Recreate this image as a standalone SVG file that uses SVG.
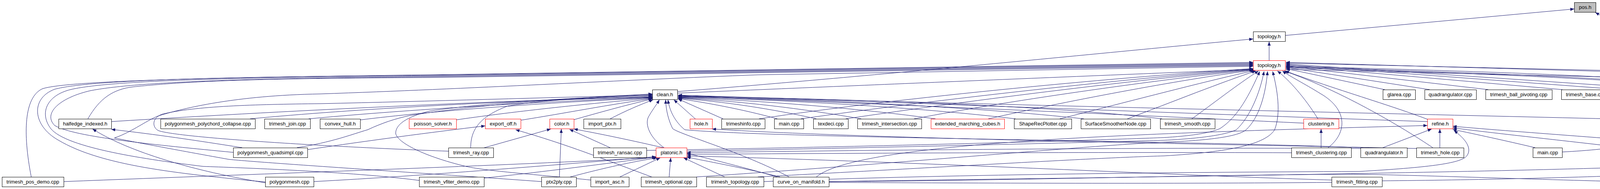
<svg xmlns="http://www.w3.org/2000/svg" width="4864" height="485" viewBox="0 0 4864 485">
<defs>
<marker id="a" markerWidth="10" markerHeight="8" refX="10" refY="4" orient="auto" markerUnits="userSpaceOnUse"><path d="M0,0 L10,4 L0,8 z" fill="#191970"/></marker>
<style>
.e path{fill:none;stroke:#191970;stroke-width:1;marker-end:url(#a)}
.e path.na{marker-end:none}
.n rect{fill:#fff;stroke:#000;stroke-width:1}
.n.r rect{stroke:#f00}
.n.g rect{fill:#bfbfbf}
.n text{font-family:"Liberation Sans",Arial,Helvetica,sans-serif;font-size:13px;text-anchor:middle;fill:#000}
</style>
</defs>
<rect width="4864" height="485" fill="#fff"/>
<g id="connectors" class="e">
<path d="M3290,91 L4030,23"/>
<path d="M4636,305 C4540,222 4290,145 4084,32"/>
<path d="M3249,155 L3249,107"/>
<path d="M1734,235 C2300,190 2900,128 3208,100"/>
<path d="M1734,239 C2300,215 2900,190 3208,178"/>
<path d="M80,454 C58,340 62,250 108,228 C170,206 600,198 1100,192 L3208,160"/>
<path d="M679,467 C450,445 260,425 150,360 C82,322 78,252 140,229 C230,204 600,197 1100,193 L3208,162"/>
<path d="M1073,463 C900,440 600,430 520,427 C380,410 170,380 130,330 C100,290 120,245 180,230 C280,206 600,199 1100,195 L3208,164"/>
<path d="M597,391 C400,372 190,352 140,322 C110,292 150,252 230,233 C350,209 650,201 1100,197 L3208,166"/>
<path d="M225,305 C255,252 290,229 340,223 C500,206 700,201 1100,199 L3208,168"/>
<path d="M1386,466 C1100,445 700,420 586,409 C480,390 330,362 293,354 C340,338 380,305 410,296 C470,278 600,245 820,241 C1200,228 1600,205 1940,192 L3208,170"/>
<path d="M285,312 C800,280 1300,258 1670,248"/>
<path d="M640,305 C900,280 1300,258 1670,249"/>
<path d="M790,305 C1000,285 1350,262 1670,250"/>
<path d="M920,308 C1100,285 1400,263 1670,251"/>
<path d="M1165,308 C1300,288 1500,266 1670,252"/>
<path d="M1330,309 C1450,290 1560,268 1670,253"/>
<path d="M1466,308 C1530,290 1600,270 1670,254"/>
<path d="M1562,305 C1600,285 1640,268 1672,256"/>
<path d="M1148,388 C800,375 450,352 405,335 C388,325 390,302 415,293 C500,272 650,268 820,266 C1100,260 1400,250 1670,244"/>
<path d="M1205,379 C1205,335 1225,300 1300,272 C1400,255 1550,248 1670,246"/>
<path d="M1512,462 C1400,450 1250,440 1193,427 C1100,405 1020,370 1013,343 C1012,320 1040,300 1100,285 C1250,262 1500,250 1670,243"/>
<path d="M760,379 C850,365 900,345 941,333 C980,315 1010,305 1051,296 C1250,265 1500,250 1670,241"/>
<path d="M787,384 C950,360 1100,340 1242,323"/>
<path d="M620,379 C500,360 400,345 285,332"/>
<path d="M679,469 C500,440 330,390 237,331"/>
<path d="M163,466 C700,445 1300,425 1679,404"/>
<path d="M803,466 C1100,450 1400,425 1679,402"/>
<path d="M1239,457 C1400,440 1550,420 1679,403"/>
<path d="M1460,454 C1550,430 1620,415 1682,405"/>
<path d="M1587,454 L1690,405"/>
<path d="M1713,454 L1717,405"/>
<path d="M1855,454 L1750,405"/>
<path d="M1997,454 C1900,430 1800,412 1758,403"/>
<path d="M1432,454 L1437,331"/>
<path d="M1240,379 L1410,331"/>
<path d="M1562,379 L1458,332"/>
<path d="M1990,454 C1800,400 1600,355 1469,331"/>
<path d="M1668,454 C1550,410 1450,370 1320,333"/>
<path d="M1700,379 C1665,355 1650,320 1660,300 C1668,285 1680,270 1688,256"/>
<path d="M2020,454 C1900,390 1740,345 1722,330 C1712,310 1705,285 1704,256"/>
<path d="M1780,305 L1725,256"/>
<path d="M3490,379 C3000,360 2000,355 1753,333 C1728,312 1714,285 1710,256"/>
<path d="M3626,381 C3000,368 2200,355 1823,331"/>
<path d="M1851,305 L1736,254"/>
<path d="M1990,305 C1900,280 1800,262 1736,253"/>
<path d="M2090,305 C1980,280 1850,260 1736,252"/>
<path d="M2205,305 C2050,278 1900,260 1736,251"/>
<path d="M2395,305 C2200,278 1950,258 1736,250"/>
<path d="M2600,305 C2350,275 2000,256 1736,249"/>
<path d="M2775,305 C2500,275 2100,255 1736,248"/>
<path d="M2975,305 C2700,272 2200,254 1736,247"/>
<path d="M3337,316 C2800,290 2200,265 1736,246"/>
<path d="M3654,312 C3000,290 2300,262 1736,245"/>
<path d="M4582,317 C4000,300 2500,270 1736,244"/>
<path d="M1943,305 C2300,250 2900,195 3208,176"/>
<path d="M2050,305 C2400,255 2900,200 3208,177"/>
<path d="M2165,305 C2500,255 2950,200 3208,178"/>
<path d="M2340,305 C2600,255 3000,200 3209,179"/>
<path d="M2530,305 C2750,255 3050,200 3210,180"/>
<path d="M2713,305 C2900,258 3100,205 3212,181"/>
<path d="M2886,305 C3000,262 3130,210 3215,182"/>
<path d="M3051,305 C3100,270 3170,215 3222,182"/>
<path d="M3374,305 C3340,250 3300,205 3270,182"/>
<path d="M3654,306 C3560,270 3420,230 3290,182"/>
<path d="M3668,379 C3550,300 3400,220 3287,182"/>
<path d="M3400,379 C3450,340 3450,280 3380,240 C3340,215 3300,195 3283,182"/>
<path d="M1655,386 C2300,375 2800,360 2980,353 C3060,348 3100,340 3123,330 C3170,300 3200,240 3225,183"/>
<path d="M1758,388 C2300,378 2800,365 2980,360 C3080,355 3140,345 3165,333 C3200,300 3225,240 3236,183"/>
<path d="M1783,454 C2300,420 2800,372 2980,365 C3100,360 3170,350 3190,333 C3225,300 3240,240 3245,183"/>
<path d="M1940,454 C2400,430 2800,405 2980,400 C3150,390 3240,370 3263,333 C3280,290 3270,230 3258,183"/>
<path d="M3545,230 L3292,176"/>
<path d="M3660,230 L3292,173"/>
<path d="M3810,230 L3292,170"/>
<path d="M4000,230 L3292,168"/>
<path d="M4150,230 L3292,166"/>
<path d="M4270,230 L3292,164"/>
<path d="M3999,390 C4300,375 4470,300 4430,245 C4400,215 3900,190 3292,174"/>
<path d="M4343,379 C4440,330 4470,250 4410,230 C4200,200 3700,183 3292,172"/>
<path d="M4543,379 C4530,300 4500,235 4440,222 C4200,195 3700,180 3292,170"/>
<path d="M2122,466 C2800,455 4300,440 4614,407 C4740,370 4770,290 4720,262 C4650,238 4500,222 4344,203 L3292,178"/>
<path d="M3538,464 C4000,460 4600,440 4777,407 C4835,370 4835,265 4781,228 C4700,200 4500,190 4344,186 L3292,162"/>
<path d="M4373,466 C4650,460 4800,440 4840,400 C4872,340 4862,258 4807,228 C4720,200 4500,192 4344,190 L3292,160"/>
<path d="M3382,379 L3382,331"/>
<path d="M3540,379 L3665,331"/>
<path d="M3686,379 L3686,331"/>
<path d="M3930,379 C3850,360 3780,345 3719,332"/>
<path d="M4226,387 C4000,360 3850,345 3719,328"/>
<path d="M4480,385 C4200,360 3900,340 3719,324"/>
<path d="M2090,454 C2200,360 3000,340 3654,322"/>
<path d="M1955,466 C2400,448 3000,442 3480,440 C3650,430 3740,420 3755,400 C3770,380 3750,355 3722,335"/>
<path d="M4560,379 L4625,331"/>
<path d="M3483,381 C3000,378 2200,385 1758,392"/>
<path d="M3306,392 C2800,390 2200,393 1758,396"/>
<path d="M3409,462 C3000,450 2400,417 1758,400"/>
<path class="na" d="M3409,468 C3000,472 2500,470 2122,468"/>
<path class="na" d="M4195,467 C3900,460 3600,448 3450,447 C3000,450 2500,465 2122,466"/>
</g>
<g id="n_pos_h" class="n g"><rect x="4030.5" y="6.5" width="55" height="25"/><text x="4058" y="23">pos.h</text></g>
<g id="n_topology_h_face" class="n"><rect x="3208.5" y="81.5" width="82" height="25"/><text x="3249" y="98">topology.h</text></g>
<g id="n_topology_h_update" class="n r"><rect x="3208.5" y="155.5" width="82" height="25"/><text x="3249" y="172">topology.h</text></g>
<g id="n_clean_h" class="n"><rect x="1670.5" y="230.5" width="64" height="25"/><text x="1702" y="247">clean.h</text></g>
<g id="n_glarea_cpp" class="n"><rect x="3540.5" y="230.5" width="83" height="25"/><text x="3582" y="247">glarea.cpp</text></g>
<g id="n_quadrangulator_cpp" class="n"><rect x="3647.5" y="230.5" width="132" height="25"/><text x="3713" y="247">quadrangulator.cpp</text></g>
<g id="n_trimesh_ball_pivoting_cpp" class="n"><rect x="3803.5" y="230.5" width="170" height="25"/><text x="3888" y="247">trimesh_ball_pivoting.cpp</text></g>
<g id="n_trimesh_base_cpp" class="n"><rect x="3997.5" y="230.5" width="126" height="25"/><text x="4060" y="247">trimesh_base.cpp</text></g>
<g id="n_glwidget_cpp" class="n"><rect x="4148.5" y="230.5" width="95" height="25"/><text x="4196" y="247">glwidget.cpp</text></g>
<g id="n_trimesh_texture_cpp" class="n"><rect x="4267.5" y="230.5" width="137" height="25"/><text x="4336" y="247">trimesh_texture.cpp</text></g>
<g id="n_halfedge_indexed_h" class="n"><rect x="150.5" y="305.5" width="135" height="25"/><text x="218" y="322">halfedge_indexed.h</text></g>
<g id="n_polygonmesh_polychord_collapse_cpp" class="n"><rect x="411.5" y="305.5" width="242" height="25"/><text x="532" y="322">polygonmesh_polychord_collapse.cpp</text></g>
<g id="n_trimesh_join_cpp" class="n"><rect x="677.5" y="305.5" width="117" height="25"/><text x="736" y="322">trimesh_join.cpp</text></g>
<g id="n_convex_hull_h" class="n"><rect x="819.5" y="305.5" width="103" height="25"/><text x="871" y="322">convex_hull.h</text></g>
<g id="n_poisson_solver_h" class="n r"><rect x="1047.5" y="305.5" width="121" height="25"/><text x="1108" y="322">poisson_solver.h</text></g>
<g id="n_export_off_h" class="n r"><rect x="1242.5" y="305.5" width="91" height="25"/><text x="1288" y="322">export_off.h</text></g>
<g id="n_color_h" class="n r"><rect x="1407.5" y="305.5" width="62" height="25"/><text x="1438" y="322">color.h</text></g>
<g id="n_import_ptx_h" class="n"><rect x="1494.5" y="305.5" width="95" height="25"/><text x="1542" y="322">import_ptx.h</text></g>
<g id="n_hole_h" class="n r"><rect x="1766.5" y="305.5" width="57" height="25"/><text x="1795" y="322">hole.h</text></g>
<g id="n_trimeshinfo_cpp" class="n"><rect x="1847.5" y="305.5" width="111" height="25"/><text x="1903" y="322">trimeshinfo.cpp</text></g>
<g id="n_main_cpp_a" class="n"><rect x="1982.5" y="305.5" width="75" height="25"/><text x="2020" y="322">main.cpp</text></g>
<g id="n_texdeci_cpp" class="n"><rect x="2082.5" y="305.5" width="89" height="25"/><text x="2127" y="322">texdeci.cpp</text></g>
<g id="n_trimesh_intersection_cpp" class="n"><rect x="2195.5" y="305.5" width="164" height="25"/><text x="2277" y="322">trimesh_intersection.cpp</text></g>
<g id="n_extended_marching_cubes_h" class="n r"><rect x="2383.5" y="305.5" width="188" height="25"/><text x="2477" y="322">extended_marching_cubes.h</text></g>
<g id="n_ShapeRecPlotter_cpp" class="n"><rect x="2596.5" y="305.5" width="147" height="25"/><text x="2670" y="322">ShapeRecPlotter.cpp</text></g>
<g id="n_SurfaceSmootherNode_cpp" class="n"><rect x="2767.5" y="305.5" width="178" height="25"/><text x="2856" y="322">SurfaceSmootherNode.cpp</text></g>
<g id="n_trimesh_smooth_cpp" class="n"><rect x="2970.5" y="305.5" width="140" height="25"/><text x="3040" y="322">trimesh_smooth.cpp</text></g>
<g id="n_clustering_h" class="n r"><rect x="3337.5" y="305.5" width="90" height="25"/><text x="3382" y="322">clustering.h</text></g>
<g id="n_refine_h" class="n r"><rect x="3654.5" y="305.5" width="65" height="25"/><text x="3687" y="322">refine.h</text></g>
<g id="n_glu_tessellator_cap_h" class="n"><rect x="4582.5" y="305.5" width="146" height="25"/><text x="4655" y="322">glu_tessellator_cap.h</text></g>
<g id="n_polygonmesh_quadsimpl_cpp" class="n"><rect x="597.5" y="379.5" width="190" height="25"/><text x="692" y="396">polygonmesh_quadsimpl.cpp</text></g>
<g id="n_trimesh_ray_cpp" class="n"><rect x="1148.5" y="379.5" width="115" height="25"/><text x="1206" y="396">trimesh_ray.cpp</text></g>
<g id="n_trimesh_ransac_cpp" class="n"><rect x="1519.5" y="379.5" width="136" height="25"/><text x="1587" y="396">trimesh_ransac.cpp</text></g>
<g id="n_platonic_h" class="n r"><rect x="1679.5" y="379.5" width="79" height="25"/><text x="1719" y="396">platonic.h</text></g>
<g id="n_trimesh_clustering_cpp" class="n"><rect x="3306.5" y="379.5" width="153" height="25"/><text x="3383" y="396">trimesh_clustering.cpp</text></g>
<g id="n_quadrangulator_h" class="n"><rect x="3483.5" y="379.5" width="119" height="25"/><text x="3543" y="396">quadrangulator.h</text></g>
<g id="n_trimesh_hole_cpp" class="n"><rect x="3626.5" y="379.5" width="121" height="25"/><text x="3687" y="396">trimesh_hole.cpp</text></g>
<g id="n_main_cpp_b" class="n"><rect x="3924.5" y="379.5" width="75" height="25"/><text x="3962" y="396">main.cpp</text></g>
<g id="n_trimesh_refine_cpp" class="n"><rect x="4226.5" y="379.5" width="129" height="25"/><text x="4291" y="396">trimesh_refine.cpp</text></g>
<g id="n_trimesh_edge_cpp" class="n"><rect x="4480.5" y="379.5" width="126" height="25"/><text x="4543" y="396">trimesh_edge.cpp</text></g>
<g id="n_trimesh_pos_demo_cpp" class="n"><rect x="5.5" y="454.5" width="158" height="25"/><text x="84" y="471">trimesh_pos_demo.cpp</text></g>
<g id="n_polygonmesh_cpp" class="n"><rect x="679.5" y="454.5" width="124" height="25"/><text x="741" y="471">polygonmesh.cpp</text></g>
<g id="n_trimesh_vfiter_demo_cpp" class="n"><rect x="1073.5" y="454.5" width="166" height="25"/><text x="1156" y="471">trimesh_vfiter_demo.cpp</text></g>
<g id="n_ptx2ply_cpp" class="n"><rect x="1386.5" y="454.5" width="89" height="25"/><text x="1431" y="471">ptx2ply.cpp</text></g>
<g id="n_import_asc_h" class="n"><rect x="1512.5" y="454.5" width="98" height="25"/><text x="1561" y="471">import_asc.h</text></g>
<g id="n_trimesh_optional_cpp" class="n"><rect x="1641.5" y="454.5" width="142" height="25"/><text x="1712" y="471">trimesh_optional.cpp</text></g>
<g id="n_trimesh_topology_cpp" class="n"><rect x="1808.5" y="454.5" width="147" height="25"/><text x="1882" y="471">trimesh_topology.cpp</text></g>
<g id="n_curve_on_manifold_h" class="n"><rect x="1979.5" y="454.5" width="143" height="25"/><text x="2051" y="471">curve_on_manifold.h</text></g>
<g id="n_trimesh_fitting_cpp" class="n"><rect x="3409.5" y="454.5" width="129" height="25"/><text x="3474" y="471">trimesh_fitting.cpp</text></g>
<g id="n_trimesh_pointmatching_cpp" class="n"><rect x="4195.5" y="454.5" width="178" height="25"/><text x="4284" y="471">trimesh_pointmatching.cpp</text></g>
</svg>
